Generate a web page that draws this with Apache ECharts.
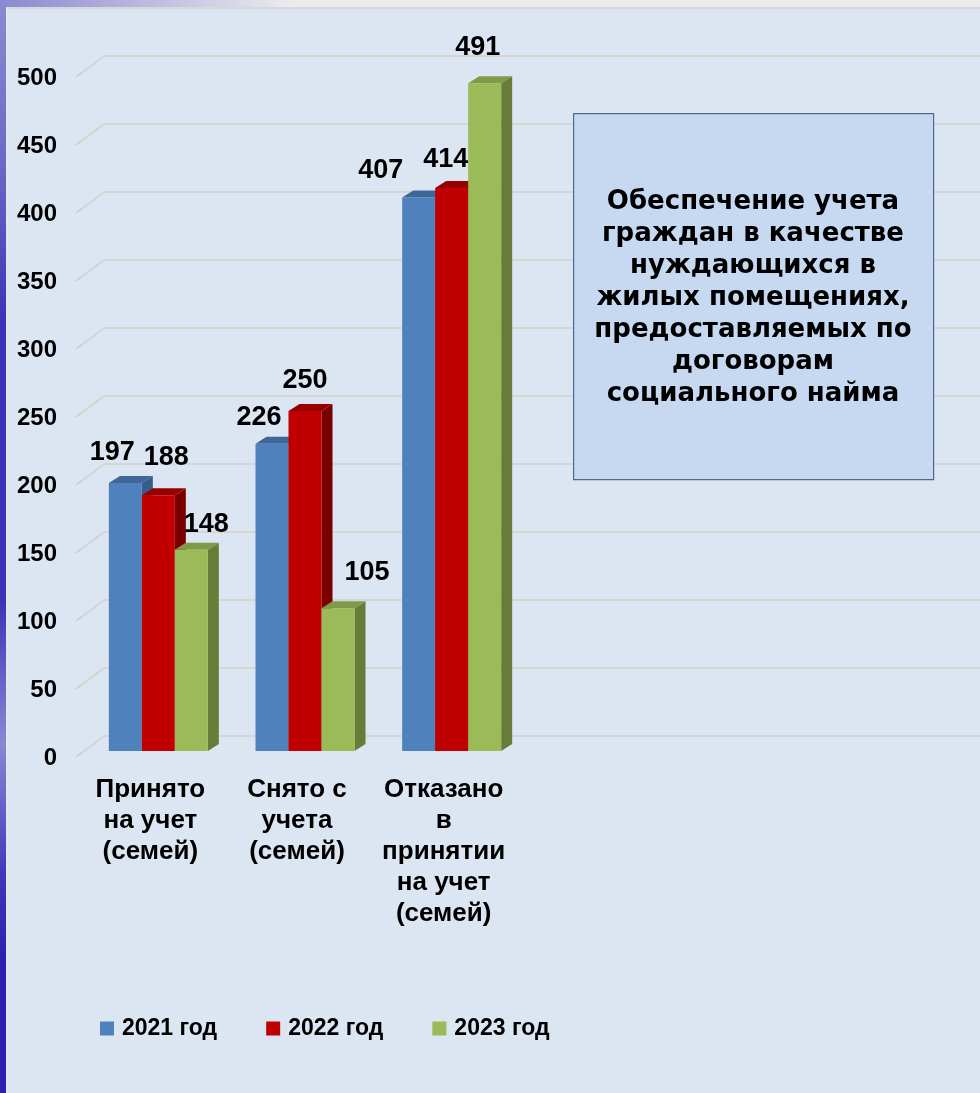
<!DOCTYPE html>
<html><head><meta charset="utf-8">
<script src="https://cdn.jsdelivr.net/npm/echarts@6/dist/echarts.min.js"></script>
<style>html,body{margin:0;padding:0;background:#dce6f2}#c{width:980px;height:1093px}</style>
</head><body><div id="c"></div>
<script>
// ---- data ----
const categories = ['Принято\nна учет\n(семей)', 'Снято с\nучета\n(семей)', 'Отказано\nв\nпринятии\nна учет\n(семей)'];
const seriesNames = ['2021 год', '2022 год', '2023 год'];
const values2021 = [197, 226, 407];
const values2022 = [188, 250, 414];
const values2023 = [148, 105, 491];
const yTicks = [0, 50, 100, 150, 200, 250, 300, 350, 400, 450, 500];
const titleText = 'Обеспечение учета\nграждан в качестве\nнуждающихся в\nжилых помещениях,\nпредоставляемых по\nдоговорам\nсоциального найма';

// ---- styles / layout ----
const COLORS = [
  {front: '#4f81bd', top: '#3e6697', side: '#385d8a'},
  {front: '#c00000', top: '#980000', side: '#7a0000'},
  {front: '#9bbb59', top: '#7f9a48', side: '#687c3a'}
];
const LABEL_DX = [[-13, -13, -38], [8, 0, -6], [15, 29, -7]];
const LABEL_DY = [[31, 26, 27], [38, 30, 28], [25, 36, 36]];
const FONT = '"Liberation Sans", Arial, sans-serif';

const allValues = [values2021, values2022, values2023];

function makeRender(s) {
  return function (params, api) {
    const ci = api.value(0), v = api.value(1);
    const base = api.coord([ci, 0]);
    const top = api.coord([ci, v]);
    const band = api.size([1, 0])[0];
    const bw = band * 0.225;
    const x = base[0] - 1.5 * bw + s * bw;
    const yb = base[1], yt = top[1];
    const dx = 11, dy = -7;
    const c = COLORS[s];
    return {
      type: 'group',
      children: [
        {type: 'polygon', shape: {points: [[x + bw, yt], [x + bw + dx, yt + dy], [x + bw + dx, yb + dy], [x + bw, yb]]}, style: {fill: c.side}},
        {type: 'polygon', shape: {points: [[x, yt], [x + bw, yt], [x + bw + dx, yt + dy], [x + dx, yt + dy]]}, style: {fill: c.top}},
        {type: 'rect', shape: {x: x, y: yt, width: bw, height: yb - yt}, style: {fill: c.front}},
        {type: 'text', x: x + bw / 2 + LABEL_DX[s][ci], y: yt - LABEL_DY[s][ci], z2: 10,
          style: {text: String(v), fill: '#000', font: 'bold 27px ' + FONT, align: 'center', verticalAlign: 'middle', textAlign: 'center', textVerticalAlign: 'middle'}}
      ]
    };
  };
}

const chart = echarts.init(document.getElementById('c'), null, {renderer: 'canvas'});

const series = [{
  type: 'custom',
  name: 'grid',
  silent: true,
  z: 1,
  data: yTicks.map(v => [0, v]),
  renderItem: function (params, api) {
    const y = api.coord([0, api.value(1)])[1];
    const left = params.coordSys.x;
    return {type: 'polyline', shape: {points: [[left - 9, y + 6], [left + 19, y - 15], [api.getWidth(), y - 15]]},
      style: {stroke: '#d5d1ca', lineWidth: 1.6, fill: null}};
  }
}];
allValues.forEach((vals, s) => {
  series.push({
    type: 'custom',
    name: seriesNames[s],
    z: 2 + s,
    itemStyle: {color: COLORS[s].front},
    data: vals.map((v, i) => [i, v]),
    renderItem: makeRender(s)
  });
});

chart.setOption({
  backgroundColor: '#dce6f2',
  animation: false,
  grid: {left: 85, right: 455, top: 71, bottom: 342},
  xAxis: {
    type: 'category', data: categories,
    axisLine: {show: false}, axisTick: {show: false},
    axisLabel: {interval: 0, color: '#000', fontFamily: FONT, fontWeight: 'bold', fontSize: 26, lineHeight: 31, margin: 23, padding: [0, 16, 0, 0]}
  },
  yAxis: {
    type: 'value', min: 0, max: 500, interval: 50,
    axisLine: {show: false}, axisTick: {show: false}, splitLine: {show: false},
    axisLabel: {color: '#000', fontFamily: FONT, fontWeight: 'bold', fontSize: 24, margin: 28, verticalAlign: 'top', lineHeight: 15}
  },
  legend: {
    data: seriesNames.map((n, i) => ({name: n, itemStyle: {color: COLORS[i].front}})),
    icon: 'rect', itemWidth: 14, itemHeight: 14, itemGap: 49,
    left: 100, top: 1017, padding: 0,
    textStyle: {color: '#000', fontFamily: FONT, fontWeight: 'bold', fontSize: 23, padding: [0, 0, 0, 3]}
  },
  graphic: [
    {type: 'rect', left: 0, top: 0, z: 100, shape: {width: 980, height: 7},
      style: {fill: new echarts.graphic.LinearGradient(0, 0, 1, 0, [
        {offset: 0, color: '#8a88d0'}, {offset: 0.3, color: '#ececee'}, {offset: 1, color: '#ececee'}])}},
    {type: 'rect', left: 0, top: 7, z: 100, shape: {width: 980, height: 2}, style: {fill: '#d8d8da'}},
    {type: 'rect', left: 0, top: 0, z: 101, shape: {width: 6, height: 1093},
      style: {fill: new echarts.graphic.LinearGradient(0, 0, 0, 1, [
        {offset: 0, color: '#8c8ad2'}, {offset: 0.15, color: '#6c68c6'}, {offset: 0.3, color: '#3a32b8'},
        {offset: 0.55, color: '#3c34b8'}, {offset: 0.68, color: '#8a88d4'}, {offset: 0.8, color: '#4038ba'},
        {offset: 0.88, color: '#2a1fb0'}, {offset: 1, color: '#2a1fb0'}])}},
    {type: 'rect', left: 6, top: 8, z: 101, shape: {width: 1.5, height: 1085}, style: {fill: '#e4e8f0'}},
    {type: 'rect', left: 573, top: 113, z: 50, shape: {width: 360, height: 366},
      style: {fill: '#c6d9f1', stroke: '#4a6891', lineWidth: 1.2}},
    {type: 'text', z: 51, x: 753, y: 298,
      style: {text: titleText, fill: '#000', font: 'bold 26px "DejaVu Sans", sans-serif', lineHeight: 32,
        align: 'center', verticalAlign: 'middle', textAlign: 'center', textVerticalAlign: 'middle'}}
  ],
  series: series
});
</script></body></html>
